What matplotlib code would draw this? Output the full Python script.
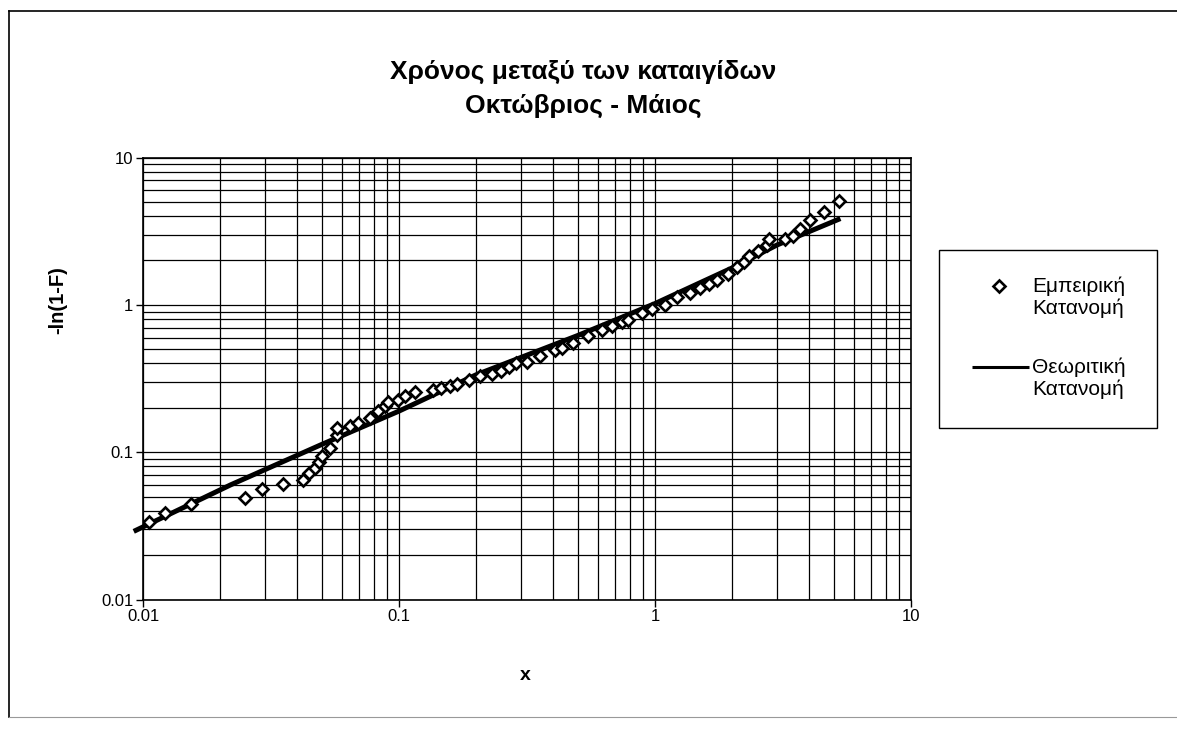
import matplotlib
matplotlib.use('Agg')
import matplotlib.pyplot as plt
import matplotlib.ticker as mticker
from matplotlib.lines import Line2D
from matplotlib.patches import Rectangle

matplotlib.rcParams['font.family'] = ['Liberation Sans', 'DejaVu Sans']

x_emp = [0.0106, 0.0122, 0.0154, 0.025, 0.0292, 0.0353, 0.0423, 0.0445, 0.047,
         0.0485, 0.050, 0.0537, 0.057, 0.0575, 0.0644, 0.0693, 0.0771, 0.083,
         0.088, 0.0908, 0.0994, 0.1057, 0.1155, 0.136, 0.146, 0.158, 0.168,
         0.187, 0.207, 0.230, 0.250, 0.270, 0.287, 0.315, 0.356, 0.407, 0.432,
         0.479, 0.549, 0.619, 0.680, 0.741, 0.787, 0.887, 0.971, 1.094, 1.215,
         1.37, 1.50, 1.63, 1.75, 1.92, 2.10, 2.22, 2.33, 2.52, 2.75, 2.79, 3.22,
         3.45, 3.69, 4.04, 4.58, 5.25]
y_emp = [0.0335, 0.0389, 0.0444, 0.0492, 0.0564, 0.0612, 0.0649, 0.072, 0.078,
         0.086, 0.094, 0.107, 0.131, 0.145, 0.151, 0.157, 0.170, 0.189,
         0.205, 0.218, 0.226, 0.239, 0.258, 0.265, 0.272, 0.283, 0.291,
         0.308, 0.328, 0.337, 0.355, 0.380, 0.402, 0.412, 0.446, 0.490, 0.510,
         0.552, 0.612, 0.680, 0.720, 0.770, 0.791, 0.875, 0.930, 1.0, 1.13,
         1.20, 1.30, 1.38, 1.47, 1.62, 1.80, 1.95, 2.15, 2.33, 2.55, 2.80, 2.80,
         2.95, 3.28, 3.78, 4.30, 5.03]

# theoretical distribution line
x_th = [0.0092, 0.022, 0.05, 0.1, 0.2, 0.5, 1.0, 2.0, 3.0, 5.3]
y_th = [0.029, 0.060, 0.113, 0.19, 0.335, 0.62, 1.02, 1.78, 2.55, 3.85]

title_lines = ['Χρόνος μεταξύ των καταιγίδων', 'Οκτώβριος - Μάιος']
label_emp = ['Εμπειρική', 'Κατανομή']
label_th = ['Θεωριτική', 'Κατανομή']

W, H = 1177, 731
fig = plt.figure(figsize=(W / 100, H / 100), dpi=100)


def fx(px):
    return px / W


def fy(py):
    return 1 - py / H


# plot area in pixels: x 143..911, y 157.5..599.5
ax = fig.add_axes([fx(143), fy(599.5), (911 - 143) / W, (599.5 - 157.5) / H])
ax.set_xscale('log')
ax.set_yscale('log')
ax.set_xlim(0.01, 10)
ax.set_ylim(0.01, 10)

ax.grid(True, which='both', color='black', linewidth=0.9)
ax.set_axisbelow(True)

ax.plot(x_th, y_th, color='black', linewidth=3.6, solid_capstyle='butt',
        clip_on=False, zorder=3)
ax.plot(x_emp, y_emp, linestyle='none', marker='D', markersize=6,
        markerfacecolor='white', markeredgecolor='black', markeredgewidth=1.9,
        zorder=4)

ax.xaxis.set_major_formatter(mticker.FuncFormatter(lambda v, p: f'{v:g}'))
ax.yaxis.set_major_formatter(mticker.FuncFormatter(lambda v, p: f'{v:g}'))
ax.xaxis.set_minor_formatter(mticker.NullFormatter())
ax.yaxis.set_minor_formatter(mticker.NullFormatter())
ax.tick_params(which='major', direction='out', length=5, width=1, labelsize=12, pad=2)
ax.tick_params(which='minor', length=0)
for s in ax.spines.values():
    s.set_linewidth(1.2)

# titles
fig.text(fx(583), fy(72), title_lines[0], ha='center', va='center',
         fontsize=19, fontweight='bold')
fig.text(fx(583), fy(106), title_lines[1], ha='center', va='center',
         fontsize=19, fontweight='bold')
fig.text(fx(525), fy(675), 'x', ha='center', va='center',
         fontsize=14, fontweight='bold')
fig.text(fx(58), fy(300), '-ln(1-F)', ha='center', va='center',
         fontsize=14.5, fontweight='bold', rotation=90)

# legend (Excel style: symbol next to first line of each label)
fig.add_artist(Rectangle((fx(939), fy(428)), (1157 - 939) / W, (428 - 250) / H,
                         transform=fig.transFigure, fill=False,
                         edgecolor='black', linewidth=1.0))
fig.add_artist(Line2D([fx(999)], [fy(286)], linestyle='none', marker='D',
                      markersize=6, markerfacecolor='white',
                      markeredgecolor='black', markeredgewidth=1.9))
fig.add_artist(Line2D([fx(972), fx(1029)], [fy(367), fy(367)], color='black',
                      linewidth=2.2, solid_capstyle='butt'))
for i, txt in enumerate(label_emp):
    fig.text(fx(1032), fy(286 + 22 * i), txt, ha='left', va='center', fontsize=15)
for i, txt in enumerate(label_th):
    fig.text(fx(1032), fy(367 + 22 * i), txt, ha='left', va='center', fontsize=15)

# outer chart border
fig.add_artist(Line2D([fx(9), fx(9)], [fy(11), fy(717)], color='black', lw=1.2))
fig.add_artist(Line2D([fx(9), 1.0], [fy(11), fy(11)], color='black', lw=1.2))
fig.add_artist(Line2D([fx(9), 1.0], [fy(717), fy(717)], color='#999999', lw=0.8))

fig.savefig('out.png', dpi=100)
